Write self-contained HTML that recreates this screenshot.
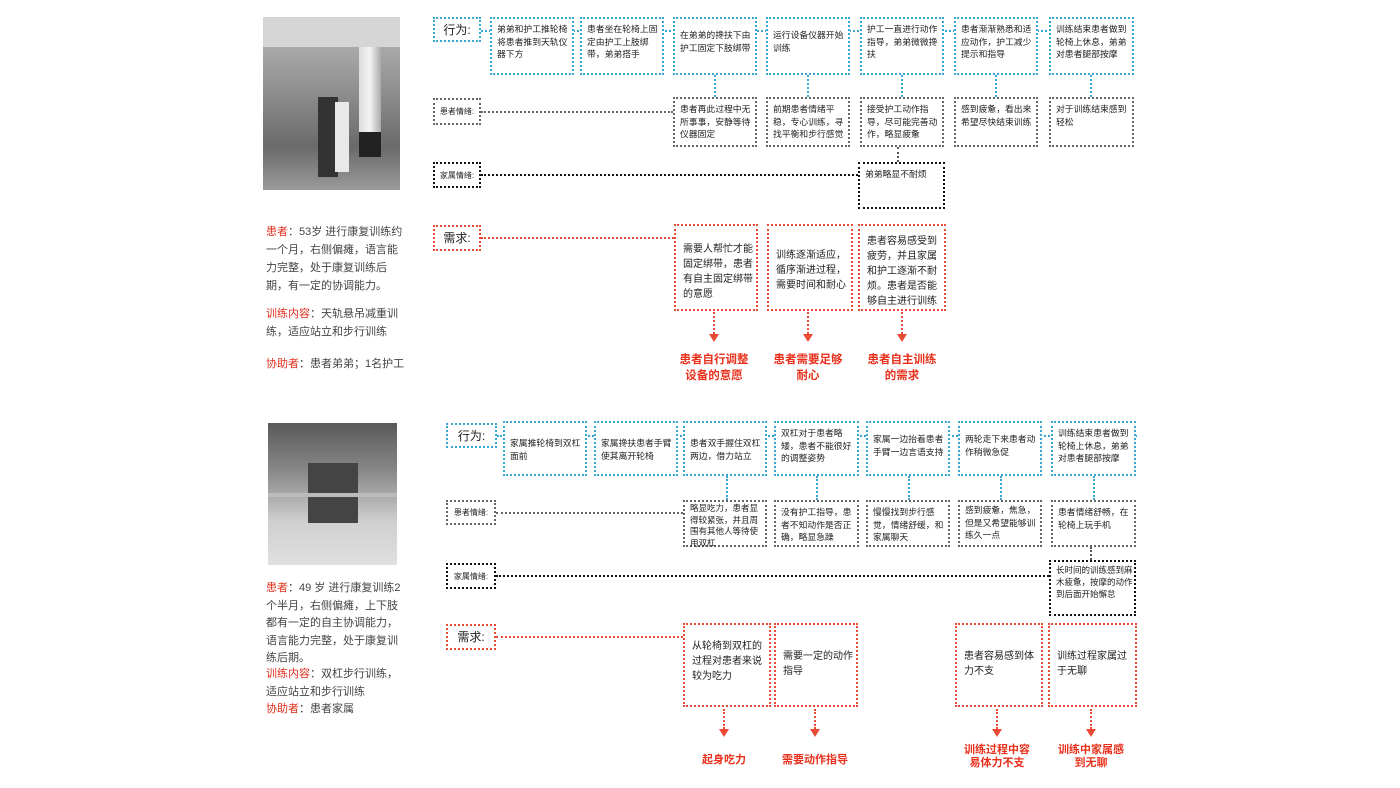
<!DOCTYPE html>
<html><head><meta charset="utf-8"><style>
body{margin:0;width:1400px;height:788px;background:#fff;position:relative;overflow:hidden;font-family:"Liberation Sans","Noto Sans CJK SC",sans-serif;}
.b{position:absolute;box-sizing:border-box;font-size:8.8px;line-height:12.5px;color:#222;padding:4px 1px 4px 5px;}
.bl{border:2px dotted #3aa6d6;}
.gr{border:2px dotted #666;}
.bk{border:2px dotted #111;}
.rd{border:2px dotted #e84a35;font-size:10px;line-height:15px;padding:8px 3px 8px 7px;}
.lab{position:absolute;box-sizing:border-box;display:flex;align-items:center;justify-content:center;font-size:8px;color:#222;}
.h{position:absolute;height:0;}
.v{position:absolute;width:0;}
.rt{position:absolute;color:#e8301c;font-size:11.5px;line-height:16px;text-align:center;font-weight:bold;}
.txt{position:absolute;font-size:11px;line-height:18px;color:#444;width:142px;}
.txt span{color:#e0301e;}
.arr{position:absolute;width:0;border-left:2px dotted #e84a35;}
.arr:after{content:"";position:absolute;left:-6px;bottom:-8px;border-left:5px solid transparent;border-right:5px solid transparent;border-top:8px solid #e84a35;}
</style></head><body>

<div style="position:absolute;left:263px;top:17px;width:137px;height:173px;background:linear-gradient(180deg,#bdbdbd 0%,#8c8c8c 45%,#6a6a6a 75%,#9a9a9a 100%);overflow:hidden">
<div style="position:absolute;left:96px;top:20px;width:22px;height:120px;background:linear-gradient(90deg,#ddd,#f4f4f4,#aaa)"></div>
<div style="position:absolute;left:96px;top:115px;width:22px;height:25px;background:#222"></div>
<div style="position:absolute;left:0;top:0;width:137px;height:30px;background:#d5d5d5"></div>
<div style="position:absolute;left:55px;top:80px;width:20px;height:80px;background:#333"></div>
<div style="position:absolute;left:72px;top:85px;width:14px;height:70px;background:#e8e8e8"></div>
</div>
<div class="txt" style="left:266px;top:223px"><span>患者</span>：53岁 进行康复训练约一个月，右侧偏瘫，语言能力完整，处于康复训练后期，有一定的协调能力。</div>
<div class="txt" style="left:266px;top:305px"><span>训练内容</span>：天轨悬吊减重训练，适应站立和步行训练</div>
<div class="txt" style="left:266px;top:355px"><span>协助者</span>：患者弟弟；1名护工</div>

<div class="lab bl" style="left:433px;top:17px;width:48px;height:25px;font-size:12px">行为:</div>
<div class="h" style="left:481px;top:30px;width:650px;border-top:2px dotted #3aa6d6"></div>
<div class="b bl" style="left:490px;top:17px;width:84px;height:58px;background:#fff">弟弟和护工推轮椅将患者推到天轨仪器下方</div>
<div class="b bl" style="left:580px;top:17px;width:84px;height:58px;background:#fff">患者坐在轮椅上固定由护工上肢绑带，弟弟搭手</div>
<div class="b bl" style="left:673px;top:17px;width:84px;height:58px;background:#fff;padding-top:10px">在弟弟的搀扶下由护工固定下肢绑带</div>
<div class="b bl" style="left:766px;top:17px;width:84px;height:58px;background:#fff;padding-top:10px">运行设备仪器开始训练</div>
<div class="b bl" style="left:860px;top:17px;width:84px;height:58px;background:#fff">护工一直进行动作指导，弟弟微微搀扶</div>
<div class="b bl" style="left:954px;top:17px;width:84px;height:58px;background:#fff">患者渐渐熟悉和适应动作，护工减少提示和指导</div>
<div class="b bl" style="left:1049px;top:17px;width:85px;height:58px;background:#fff">训练结束患者做到轮椅上休息，弟弟对患者腿部按摩</div>
<div class="v" style="left:714px;top:75px;height:22px;border-left:2px dotted #3aa6d6"></div>
<div class="v" style="left:807px;top:75px;height:22px;border-left:2px dotted #3aa6d6"></div>
<div class="v" style="left:901px;top:75px;height:22px;border-left:2px dotted #3aa6d6"></div>
<div class="v" style="left:995px;top:75px;height:22px;border-left:2px dotted #3aa6d6"></div>
<div class="v" style="left:1090px;top:75px;height:22px;border-left:2px dotted #3aa6d6"></div>

<div class="lab gr" style="left:433px;top:98px;width:48px;height:27px">患者情绪:</div>
<div class="h" style="left:481px;top:111px;width:192px;border-top:2px dotted #666"></div>
<div class="b gr" style="left:673px;top:97px;width:84px;height:50px">患者再此过程中无所事事，安静等待仪器固定</div>
<div class="b gr" style="left:766px;top:97px;width:84px;height:50px">前期患者情绪平稳，专心训练，寻找平衡和步行感觉</div>
<div class="b gr" style="left:860px;top:97px;width:84px;height:50px">接受护工动作指导，尽可能完善动作，略显疲惫</div>
<div class="b gr" style="left:954px;top:97px;width:84px;height:50px">感到疲惫，看出来希望尽快结束训练</div>
<div class="b gr" style="left:1049px;top:97px;width:85px;height:50px">对于训练结束感到轻松</div>
<div class="v" style="left:897px;top:147px;height:15px;border-left:2px dotted #555"></div>

<div class="lab bk" style="left:433px;top:162px;width:48px;height:26px">家属情绪:</div>
<div class="h" style="left:481px;top:174px;width:377px;border-top:2px dotted #111"></div>
<div class="b bk" style="left:858px;top:162px;width:87px;height:47px">弟弟略显不耐烦</div>

<div class="lab rd" style="left:433px;top:225px;width:48px;height:26px;padding:0;font-size:12px">需求:</div>
<div class="h" style="left:481px;top:237px;width:193px;border-top:2px dotted #e84a35"></div>
<div class="b rd" style="left:674px;top:224px;width:84px;height:87px;padding-top:16px">需要人帮忙才能固定绑带，患者有自主固定绑带的意愿</div>
<div class="b rd" style="left:767px;top:224px;width:86px;height:87px;padding-top:22px">训练逐渐适应，循序渐进过程，需要时间和耐心</div>
<div class="b rd" style="left:858px;top:224px;width:88px;height:87px">患者容易感受到疲劳，并且家属和护工逐渐不耐烦。患者是否能够自主进行训练</div>
<div class="arr" style="left:713px;top:312px;height:22px"></div>
<div class="arr" style="left:807px;top:312px;height:22px"></div>
<div class="arr" style="left:901px;top:312px;height:22px"></div>
<div class="rt" style="left:664px;top:352px;width:100px">患者自行调整<br>设备的意愿</div>
<div class="rt" style="left:758px;top:352px;width:100px">患者需要足够<br>耐心</div>
<div class="rt" style="left:852px;top:352px;width:100px">患者自主训练<br>的需求</div>

<div style="position:absolute;left:268px;top:423px;width:129px;height:142px;background:linear-gradient(180deg,#5a5a5a 0%,#8a8a8a 35%,#d0d0d0 70%,#e0e0e0 100%);overflow:hidden">
<div style="position:absolute;left:40px;top:40px;width:50px;height:60px;background:#444"></div>
<div style="position:absolute;left:0;top:70px;width:129px;height:4px;background:#bbb"></div>
</div>
<div class="txt" style="left:266px;top:580px;line-height:17.5px"><span>患者</span>：49 岁 进行康复训练2个半月，右侧偏瘫，上下肢都有一定的自主协调能力，语言能力完整，处于康复训练后期。</div>
<div class="txt" style="left:266px;top:666px;line-height:17.5px"><span>训练内容</span>：双杠步行训练，适应站立和步行训练</div>
<div class="txt" style="left:266px;top:700px"><span>协助者</span>：患者家属</div>

<div class="lab bl" style="left:446px;top:423px;width:51px;height:25px;font-size:12px">行为:</div>
<div class="h" style="left:497px;top:435px;width:640px;border-top:2px dotted #3aa6d6"></div>
<div class="b bl" style="left:503px;top:421px;width:84px;height:55px;background:#fff;padding-top:14px">家属推轮椅到双杠面前</div>
<div class="b bl" style="left:594px;top:421px;width:84px;height:55px;background:#fff;padding-top:14px">家属搀扶患者手臂使其离开轮椅</div>
<div class="b bl" style="left:683px;top:421px;width:84px;height:55px;background:#fff;padding-top:14px">患者双手握住双杠两边，借力站立</div>
<div class="b bl" style="left:774px;top:421px;width:85px;height:55px;background:#fff">双杠对于患者略矮，患者不能很好的调整姿势</div>
<div class="b bl" style="left:866px;top:421px;width:84px;height:55px;background:#fff;padding-top:10px">家属一边抬着患者手臂一边言语支持</div>
<div class="b bl" style="left:958px;top:421px;width:84px;height:55px;background:#fff;padding-top:10px">两轮走下来患者动作稍微急促</div>
<div class="b bl" style="left:1051px;top:421px;width:85px;height:55px;background:#fff">训练结束患者做到轮椅上休息，弟弟对患者腿部按摩</div>
<div class="v" style="left:726px;top:476px;height:24px;border-left:2px dotted #3aa6d6"></div>
<div class="v" style="left:816px;top:476px;height:24px;border-left:2px dotted #3aa6d6"></div>
<div class="v" style="left:908px;top:476px;height:24px;border-left:2px dotted #3aa6d6"></div>
<div class="v" style="left:1000px;top:476px;height:24px;border-left:2px dotted #3aa6d6"></div>
<div class="v" style="left:1093px;top:476px;height:24px;border-left:2px dotted #3aa6d6"></div>

<div class="lab gr" style="left:446px;top:500px;width:50px;height:25px">患者情绪:</div>
<div class="h" style="left:496px;top:512px;width:187px;border-top:2px dotted #666"></div>
<div class="b gr" style="left:683px;top:500px;width:84px;height:47px;padding-top:1px;line-height:11.5px;font-size:8.5px">略显吃力，患者显得较紧张，并且周围有其他人等待使用双杠</div>
<div class="b gr" style="left:774px;top:500px;width:85px;height:47px">没有护工指导，患者不知动作是否正确，略显急躁</div>
<div class="b gr" style="left:866px;top:500px;width:84px;height:47px">慢慢找到步行感觉，情绪舒缓，和家属聊天</div>
<div class="b gr" style="left:958px;top:500px;width:84px;height:47px;padding-top:2px">感到疲惫，焦急，但是又希望能够训练久一点</div>
<div class="b gr" style="left:1051px;top:500px;width:85px;height:47px">患者情绪舒畅，在轮椅上玩手机</div>
<div class="v" style="left:1090px;top:547px;height:13px;border-left:2px dotted #555"></div>

<div class="lab bk" style="left:446px;top:563px;width:50px;height:26px">家属情绪:</div>
<div class="h" style="left:496px;top:575px;width:553px;border-top:2px dotted #111"></div>
<div class="b bk" style="left:1049px;top:560px;width:87px;height:56px;padding-top:2px;font-size:8.5px;line-height:12px">长时间的训练感到麻木疲惫，按摩的动作到后面开始懈怠</div>

<div class="lab rd" style="left:446px;top:624px;width:50px;height:26px;padding:0;font-size:12px">需求:</div>
<div class="h" style="left:496px;top:636px;width:187px;border-top:2px dotted #e84a35"></div>
<div class="b rd" style="left:683px;top:623px;width:88px;height:84px;padding-top:14px">从轮椅到双杠的过程对患者来说较为吃力</div>
<div class="b rd" style="left:774px;top:623px;width:84px;height:84px;padding-top:24px">需要一定的动作指导</div>
<div class="b rd" style="left:955px;top:623px;width:88px;height:84px;padding-top:24px">患者容易感到体力不支</div>
<div class="b rd" style="left:1048px;top:623px;width:89px;height:84px;padding-top:24px">训练过程家属过于无聊</div>
<div class="arr" style="left:723px;top:709px;height:20px"></div>
<div class="arr" style="left:814px;top:709px;height:20px"></div>
<div class="arr" style="left:996px;top:709px;height:20px"></div>
<div class="arr" style="left:1090px;top:709px;height:20px"></div>
<div class="rt" style="left:674px;top:752px;width:100px;font-size:11px">起身吃力</div>
<div class="rt" style="left:765px;top:752px;width:100px;font-size:11px">需要动作指导</div>
<div class="rt" style="left:947px;top:744px;width:100px;font-size:11px;line-height:13px">训练过程中容<br>易体力不支</div>
<div class="rt" style="left:1041px;top:744px;width:100px;font-size:11px;line-height:13px">训练中家属感<br>到无聊</div>

</body></html>
